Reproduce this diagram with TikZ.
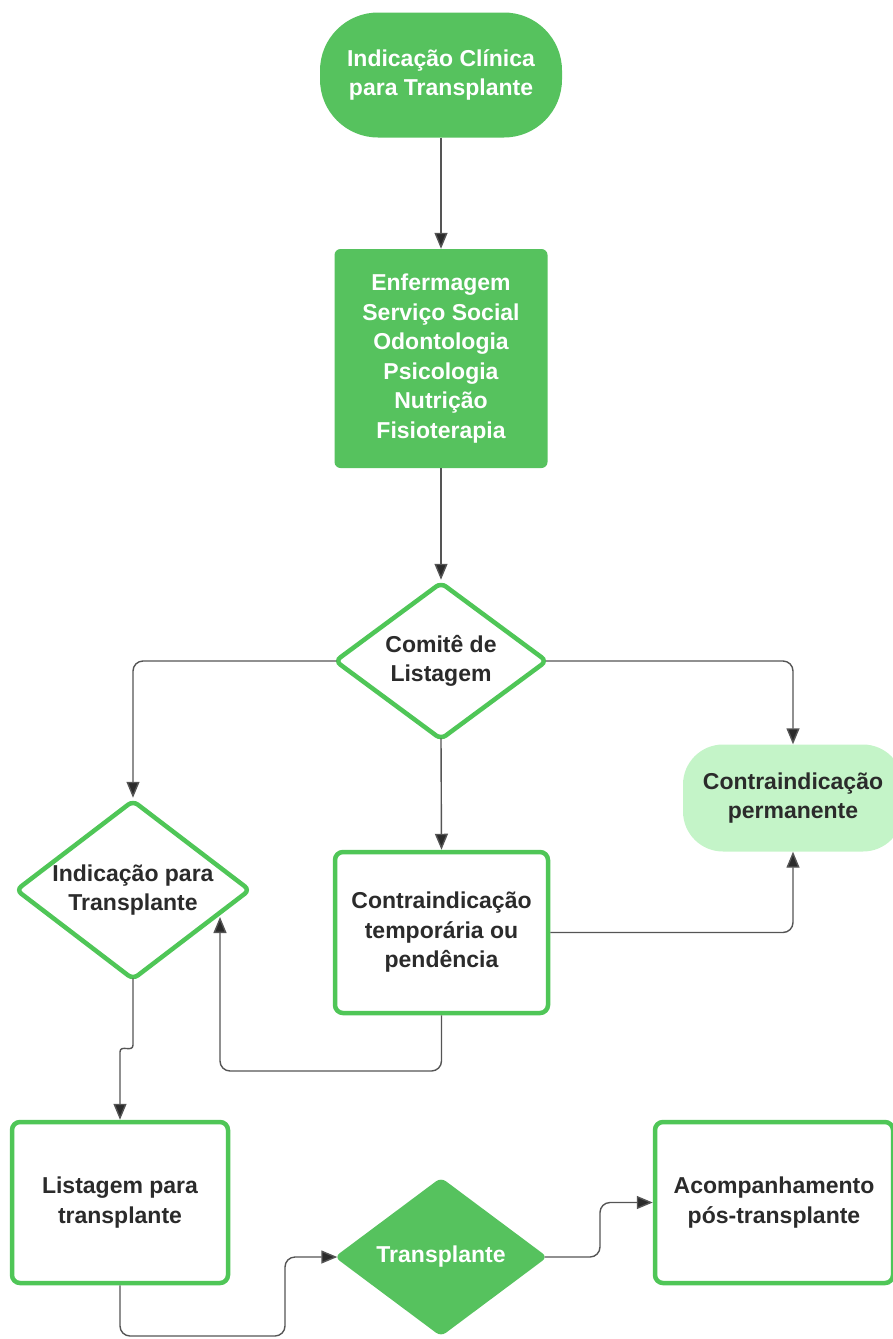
\documentclass[tikz,border=0pt]{standalone}
\usepackage{fontspec}
\setmainfont{Liberation Sans}
\usetikzlibrary{shapes.geometric,arrows.meta}
\definecolor{gfill}{HTML}{56C25E}
\definecolor{gline}{HTML}{4FC657}
\definecolor{lfill}{HTML}{C4F4C8}
\definecolor{txt}{HTML}{2B2B2B}
\definecolor{connc}{HTML}{555555}
\begin{document}
\begin{tikzpicture}[x=1pt,y=-1pt,
 every node/.style={font=\bfseries\fontsize{23}{29.5}\selectfont, align=center, inner sep=0pt},
 startbox/.style={fill=gfill, rounded corners=58pt, minimum width=242pt, minimum height=125pt, text=white},
 greenbox/.style={fill=gfill, rounded corners=6pt, text=white},
 whitebox/.style={draw=gline, line width=4.5pt, fill=white, rounded corners=8pt, text=txt},
 whitedia/.style={diamond, aspect=1.32, draw=gline, line width=4.5pt, fill=white, rounded corners=6pt, text=txt},
 greendia/.style={diamond, aspect=1.32, fill=gfill, rounded corners=6pt, text=white},
 softbox/.style={fill=lfill, rounded corners=40pt, text=txt},
 conn/.style={draw=connc, line width=1.4pt, rounded corners=10pt, -{Triangle[length=16pt,width=13pt,fill=txt]}},
]
\useasboundingbox (0,0) rectangle (893,1339);

\node[startbox] (start) at (441,75) {Indicação Clínica\\para Transplante};
\node[greenbox, minimum width=213pt, minimum height=219pt] (team) at (441,358.5)
  {Enfermagem\\Serviço Social\\Odontologia\\Psicologia\\Nutrição\\Fisioterapia};
\node[whitedia, minimum width=213pt, minimum height=158pt] (comite) at (441,661) {Comitê de\\Listagem};
\node[whitedia, minimum width=235pt, minimum height=180pt] (indic) at (133,890) {Indicação para\\Transplante};
\node[softbox, minimum width=220pt, minimum height=107pt] (perm) at (793,798) {Contraindicação\\permanente};
\node[whitebox, minimum width=213pt, minimum height=161pt] (temp) at (441.5,932.5) {Contraindicação\\temporária ou\\pendência};
\node[whitebox, minimum width=216pt, minimum height=161pt] (list) at (120,1202.5) {Listagem para\\transplante};
\node[greendia, minimum width=213pt, minimum height=159pt] (transp) at (441,1257) {Transplante};
\node[whitebox, minimum width=238pt, minimum height=161pt] (acomp) at (774,1202.5) {Acompanhamento\\pós-transplante};

\coordinate (indin) at (220,917);
\coordinate (loopA) at (220,1071);
\coordinate (jogA) at (133,1035);
\coordinate (jogB) at (120,1062);
\coordinate (lb1) at (120,1336);
\coordinate (lb2) at (285,1336);
\coordinate (lb3) at (285,1257);
\coordinate (tr1) at (600,1257);
\coordinate (tr2) at (600,1202.5);

\draw[conn] (start.south) -- (team.north);
\draw[conn] (team.south) -- (comite.north);
\draw[conn] ([xshift=4pt]comite.west) -| (indic.north);
\draw[conn] ([xshift=-4pt]comite.east) -| (perm.north);
\draw[conn] ([yshift=4pt]comite.south) -- (temp.north);
\draw[conn] (temp.east) -| (perm.south);
\draw[conn] (temp.south) |- (loopA) -- (indin);
\draw[conn] ([yshift=4pt]indic.south) -- (jogA) .. controls (133,1053) and (120,1044) .. (jogB) -- (list.north);
\draw[conn] (list.south) -- (lb1) -- (lb2) -- (lb3) -- ([xshift=3pt]transp.west);
\draw[conn] ([xshift=-3pt]transp.east) -- (tr1) -- (tr2) -- (acomp.west);
\end{tikzpicture}
\end{document}
